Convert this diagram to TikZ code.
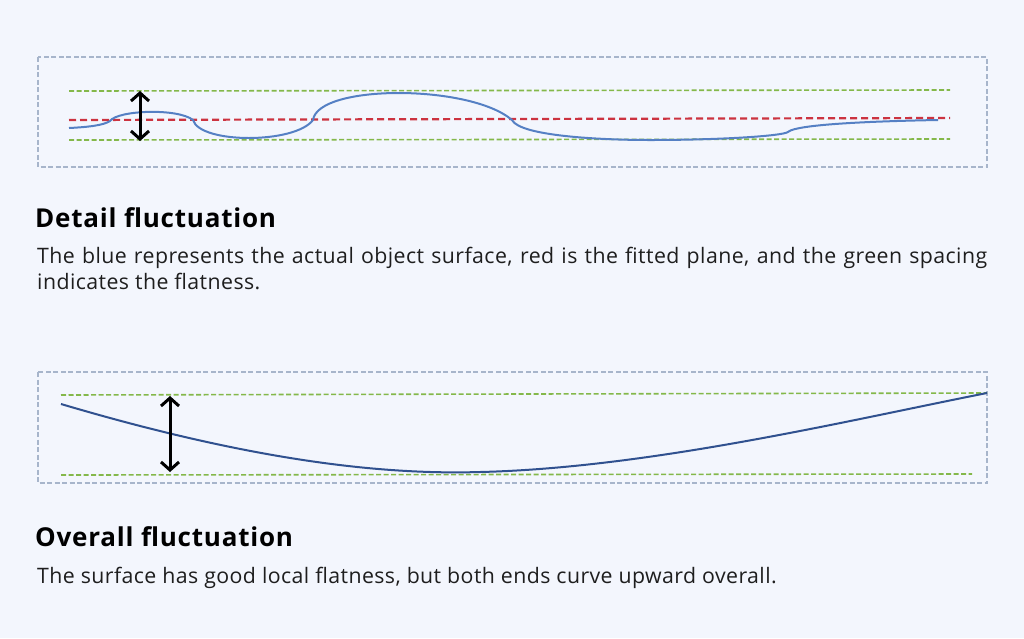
\documentclass[tikz,border=0pt]{standalone}
\usepackage{fontspec}
\setmainfont{Open Sans}
\newfontfamily\bodyfont[LetterSpace=2]{Open Sans}
\newfontfamily\headfont[LetterSpace=3]{Open Sans}
\usetikzlibrary{arrows.meta}
\definecolor{bg}{HTML}{F3F6FD}
\definecolor{boxc}{HTML}{A7B5CB}
\definecolor{grn}{HTML}{84B84A}
\definecolor{redl}{HTML}{CC3340}
\definecolor{bluet}{HTML}{5580C4}
\definecolor{blueb}{HTML}{30518F}
\definecolor{txt}{HTML}{1E1E1E}
\tikzset{
  frame/.style={draw=boxc, line width=1.1pt, dash pattern=on 5pt off 2.5pt},
  gline/.style={draw=grn, line width=1.6pt, dash pattern=on 5pt off 2.5pt},
  rline/.style={draw=redl, line width=2.2pt, dash pattern=on 7pt off 4pt},
  surf/.style={line width=2pt},
  dbl/.style={black, line width=3pt, {Straight Barb[length=8pt,width=18pt,line width=3pt]}-{Straight Barb[length=8pt,width=18pt,line width=3pt]}},
  head/.style={anchor=base west, inner sep=0pt, font=\headfont\fontsize{26}{30}\selectfont\bfseries, text=black},
  body/.style={anchor=base west, inner sep=0pt, font=\bodyfont\fontsize{21.3}{26}\selectfont, text=txt}
}
\begin{document}
\begin{tikzpicture}[x=1pt,y=-1pt]
\fill[bg] (0,0) rectangle (1024,638);
\useasboundingbox (0,0) rectangle (1024,638);
% ---- top panel
\draw[frame] (38,57) rectangle (987,167);
\draw[gline] (69,91) -- (950,90);
\draw[gline] (69,140) -- (950,139);
\draw[rline] (69,120) -- (950,118);
\draw[bluet, surf] (69,128) .. controls (90,127) and (104,125) .. (110,121)
  .. controls (118,110) and (178,108) .. (193,120)
  .. controls (200,144) and (295,144) .. (313,120)
  .. controls (318,84) and (470,84) .. (512,120)
  .. controls (520,136) and (600,140) .. (650,140)
  .. controls (720,140) and (782,136) .. (788,132)
  .. controls (793,127) and (830,122) .. (938,120);
\coordinate (a1t) at (140,91);
\coordinate (a1b) at (140,141);
\draw[dbl] (a1t) -- (a1b);
\node[head] (h1) at (35,227) {Detail fluctuation};
\node[body, text width=950pt, align=justify] (b1) at (37,263) {\hyphenpenalty=10000 The blue represents the actual object surface, red is the fitted plane, and the green spacing\linebreak indicates the flatness.};
% ---- bottom panel
\draw[frame] (38,372) rectangle (987,483);
\draw[gline] (61,395) -- (987,393);
\draw[gline] (61,475) -- (972,474);
\draw[blueb, surf] (61,404) .. controls (250,460) and (380,475) .. (480,472)
  .. controls (650,468) and (850,420) .. (987,393);
\coordinate (a2t) at (170,396);
\coordinate (a2b) at (170,472);
\draw[dbl] (a2t) -- (a2b);
\node[head] (h2) at (35,546) {Overall fluctuation};
\node[body] (b2) at (37,583) {The surface has good local flatness, but both ends curve upward overall.};
\end{tikzpicture}
\end{document}
